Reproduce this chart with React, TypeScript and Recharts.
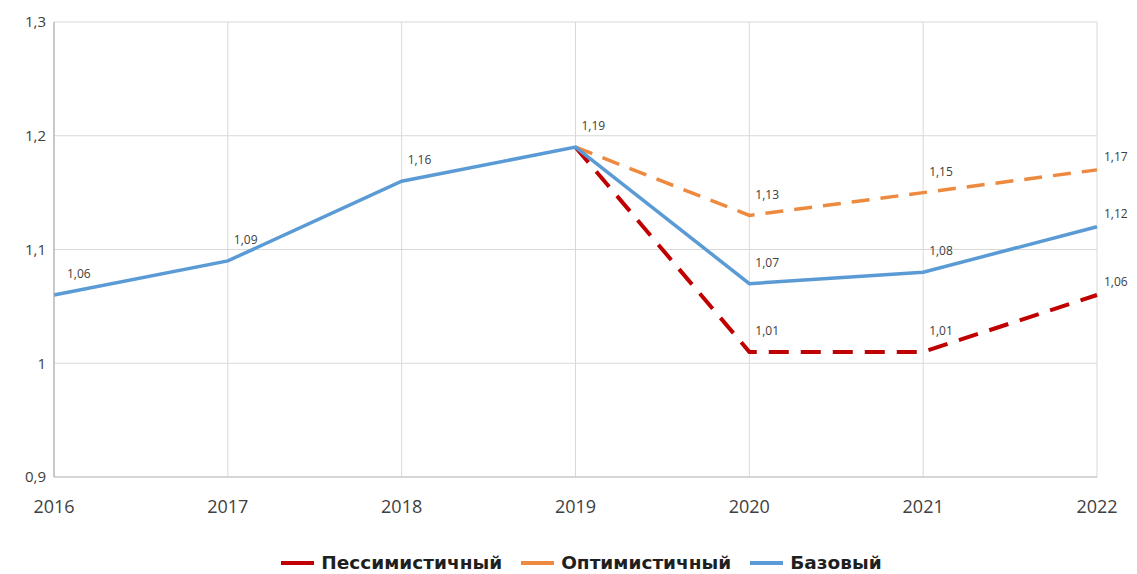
import React from 'react';
import { LineChart, Line, XAxis, YAxis, CartesianGrid, Legend, LabelList } from 'recharts';

const YEARS = ['2016', '2017', '2018', '2019', '2020', '2021', '2022'];
const BASE = [1.06, 1.09, 1.16, 1.19, 1.07, 1.08, 1.12];
const OPTIMISTIC = [null, null, null, 1.19, 1.13, 1.15, 1.17];
const PESSIMISTIC = [null, null, null, 1.19, 1.01, 1.01, 1.06];
const Y_TICKS = [0.9, 1, 1.1, 1.2, 1.3];

const SERIES = [
  { key: 'pess', name: 'Пессимистичный', color: '#c00000', width: 4, dash: '20 12', labels: [4, 5, 6] },
  { key: 'opt', name: 'Оптимистичный', color: '#ed8a3f', width: 3.5, dash: '18 11', labels: [4, 5, 6] },
  { key: 'base', name: 'Базовый', color: '#5b9bd5', width: 3.5, dash: undefined, labels: [0, 1, 2, 3, 4, 5, 6] },
];

const data = YEARS.map((year, i) => ({
  year,
  base: BASE[i],
  opt: OPTIMISTIC[i],
  pess: PESSIMISTIC[i],
}));

const fmt = (v: number) => String(v).replace('.', ',');

const makeLabel = (allowed: number[]) => (props: any) => {
  const { x, y, value, index } = props;
  if (value == null || !allowed.includes(index)) return null;
  const last = index === YEARS.length - 1;
  const dx = last ? 7 : index === 0 ? 13 : 6;
  const dy = last ? -12 : -20;
  return (
    <text x={x + dx} y={y + dy} dominantBaseline="middle" fontSize={12}
      fontFamily="'Open Sans', sans-serif" fill="#404040">
      {fmt(value)}
    </text>
  );
};

const LegendContent = () => (
  <div style={{ height: 47, display: 'flex', alignItems: 'flex-end', justifyContent: 'center', paddingLeft: 52 }}>
    <div style={{ display: 'flex', alignItems: 'center', gap: 19, marginBottom: 1 }}>
      {SERIES.map((s) => (
        <div key={s.key} style={{ display: 'flex', alignItems: 'center', gap: 7 }}>
          <div style={{ width: 33, height: 4, background: s.color }} />
          <span style={{ fontFamily: "'DejaVu Sans', sans-serif", fontWeight: 700, fontSize: 18.5, color: '#1f1f1f' }}>
            {s.name}
          </span>
        </div>
      ))}
    </div>
  </div>
);

export default function App() {
  return (
    <LineChart width={1121} height={566} data={data} margin={{ top: 14, right: 32, left: 6, bottom: 0 }}>
      <CartesianGrid stroke="#d9d9d9" strokeWidth={1} />
      <XAxis dataKey="year" height={50} tickLine={false} tickMargin={17}
        axisLine={{ stroke: '#bfbfbf' }}
        tick={{ fontSize: 18, fill: '#404040', fontFamily: "'Open Sans', sans-serif" }} />
      <YAxis domain={[0.9, 1.3]} ticks={Y_TICKS} width={40} tickLine={false} tickMargin={2}
        axisLine={{ stroke: '#a6a6a6' }} tickFormatter={fmt}
        tick={{ fontSize: 15, fill: '#404040', fontFamily: "'Open Sans', sans-serif" }} />
      <Legend verticalAlign="bottom" content={<LegendContent />} />
      {SERIES.map((s) => (
        <Line key={s.key} dataKey={s.key} name={s.name} stroke={s.color} strokeWidth={s.width}
          strokeDasharray={s.dash} dot={false} activeDot={false} connectNulls={false}
          isAnimationActive={false}>
          <LabelList dataKey={s.key} content={makeLabel(s.labels)} />
        </Line>
      ))}
    </LineChart>
  );
}
